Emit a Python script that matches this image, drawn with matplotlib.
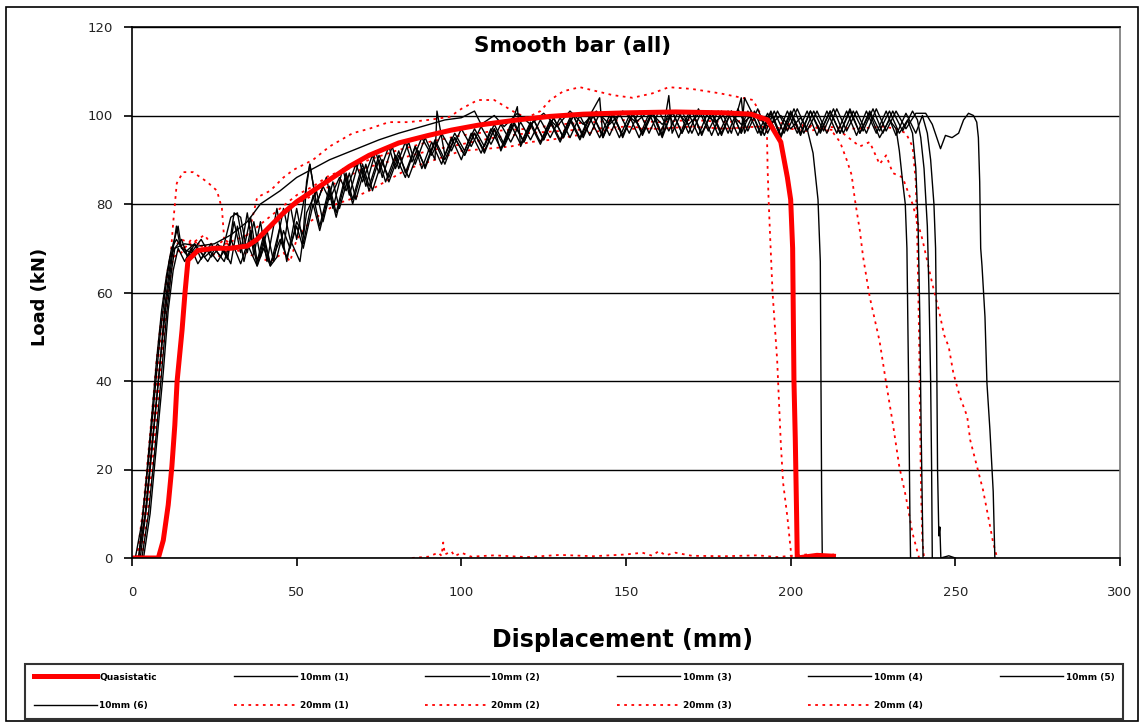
import matplotlib
matplotlib.use("Agg")
import matplotlib.pyplot as plt
import matplotlib.patches as patches
import numpy as np

# ---- data (displacement mm, load kN) ----
quasistatic = [(0, 0), (8, 0), (9.5, 4), (11, 12), (12.1, 20.6), (13, 30), (13.7, 40),
               (15.2, 51.5), (16.1, 60), (17, 67.3), (20, 69.5), (25, 70), (30, 70),
               (35, 70.5), (38, 72), (42, 75), (46, 78), (50, 80.5), (55, 83), (60, 85.5),
               (66, 88.5), (72, 91), (81, 93.8), (90, 95.5), (97, 96.7), (105, 97.8),
               (117, 99), (127, 99.8), (137, 100.3), (150, 100.6), (165, 100.8),
               (180, 100.6), (188, 100.3), (193, 99), (197, 94), (199, 86), (200, 81),
               (200.6, 70), (201, 40), (201.4, 27), (201.8, 10), (202, 0), (205, 0.3),
               (208, 0.6), (213, 0.4)]

mm10_1 = [(1, 0), (3, 8), (5, 22), (7, 38), (8.5, 50), (10, 60), (11.5, 68), (13, 70),
          (16, 71), (20, 70.5), (25, 71), (30, 73), (35, 76), (39, 80), (45, 83),
          (50, 86), (55, 88), (60, 90), (65, 91.5), (70, 93), (75, 94.5), (81, 96),
          (88, 97.5), (95, 99), (100, 99.5), (104, 101), (106, 98), (110, 100),
          (113, 97.5), (117, 100.5), (121, 98), (125, 100.5), (129, 97.5), (133, 101),
          (137, 98), (141, 101), (145, 98), (149, 101), (153, 98.5), (157, 101),
          (161, 98), (165, 101), (169, 98), (173, 101), (177, 98.5), (181, 101),
          (185, 98), (189, 100.5), (193, 97.5), (197, 100), (200, 97), (203, 99.5),
          (205, 97), (206.8, 91.5), (208.3, 81), (209, 67), (209.2, 40), (209.4, 15),
          (209.6, 0)]

mm10_2 = [(2, 0), (4, 10), (6, 25), (8, 40), (10, 55), (11.5, 64), (12.5, 70), (13.5, 75),
          (14.5, 71), (17, 68), (20, 70), (23, 67), (26, 71), (29, 68), (31, 78), (33, 77),
          (35, 69), (37, 76), (39, 68), (41, 74), (43, 67), (46, 79), (48, 72), (51, 67),
          (53, 78), (56, 83), (58, 76), (61, 85), (63, 79), (66, 87), (68, 81), (71, 89),
          (73, 83), (76, 90), (78, 85), (81, 91), (84, 86), (87, 92), (89, 88), (92, 94),
          (95, 89), (98, 95), (101, 91), (104, 96), (107, 92), (110, 97), (113, 93),
          (116, 98), (119, 94), (122, 99), (125, 94.5), (128, 99.5), (131, 95), (134, 100),
          (137, 95), (140, 100), (143, 95.5), (146, 100.5), (149, 95), (152, 100.5),
          (155, 96), (158, 101), (161, 95.5), (164, 101), (167, 96), (170, 101),
          (173, 95.5), (176, 101), (179, 96), (182, 101), (185, 96), (186, 104),
          (188, 101), (191, 95.5), (194, 100.5), (197, 95), (200, 100.5), (203, 95.5),
          (206, 101), (209, 96), (212, 101), (215, 96), (218, 101), (221, 96),
          (224, 100.5), (227, 95), (230, 99), (232, 97), (233, 92), (234, 85), (234.8, 80),
          (235.3, 70), (235.8, 40), (236, 25), (236.2, 10), (236.4, 0)]

mm10_3 = [(3, 0), (5, 10), (7, 25), (9, 42), (10.5, 55), (12, 65), (13, 70), (15, 72),
          (17, 68), (19, 71), (21, 67.5), (24, 71), (27, 68), (30, 77), (32, 78), (34, 70),
          (36, 77), (38, 67), (40, 73), (42, 66.5), (45, 72), (47, 68), (50, 75), (52, 70),
          (55, 80), (57, 74), (60, 83), (62, 77), (65, 86), (67, 80), (70, 88), (72, 83),
          (75, 90), (77, 85), (80, 91), (83, 86), (86, 93), (88, 88), (91, 94), (94, 89),
          (97, 95), (100, 90), (103, 96), (106, 91.5), (109, 97), (112, 92.5), (115, 98),
          (118, 93.5), (121, 98.5), (124, 94), (127, 99), (130, 94.5), (133, 99.5),
          (136, 95), (139, 100), (142, 104), (143, 95), (146, 100), (149, 95.5),
          (152, 100.5), (155, 95.5), (158, 100.5), (161, 95), (164, 101), (167, 96),
          (170, 101), (173, 96), (176, 100.5), (179, 95.5), (182, 101), (185, 96),
          (188, 101), (191, 96), (194, 101), (197, 95.5), (200, 101), (203, 96),
          (206, 101), (209, 96.5), (212, 101), (215, 96), (218, 101.5), (221, 96),
          (224, 101), (227, 96.5), (230, 101), (233, 96), (235.5, 99), (237, 96),
          (238, 88), (238.7, 75), (239.2, 55), (239.6, 30), (240, 10), (240.2, 0)]

mm10_4 = [(2.5, 0), (4.5, 12), (6.5, 28), (8.5, 44), (10, 57), (11.5, 66), (12.5, 71),
          (14, 75), (15, 70), (18, 69), (21, 72), (24, 68), (27, 70.5), (29, 67.5),
          (31, 76), (33, 69), (35, 78), (37, 68.5), (39, 76), (41, 67), (44, 79), (46, 70),
          (48, 80), (50, 72), (53, 84), (54, 89), (56, 80), (59, 86), (61, 79), (64, 88),
          (66, 82), (69, 90), (71, 84), (74, 92), (76, 86), (79, 93), (81, 88), (84, 94),
          (86, 89), (89, 95), (92, 90), (92.6, 101), (95, 91), (98, 96), (101, 92),
          (104, 97), (107, 93), (110, 98), (113, 93.5), (116, 98.5), (119, 94), (122, 99),
          (125, 94.5), (128, 99.5), (131, 95), (134, 100), (137, 95.5), (140, 100),
          (143, 95), (146, 100.5), (149, 95.5), (152, 100.5), (155, 96), (158, 101),
          (161, 95.5), (163, 104.5), (164, 96), (167, 101), (170, 96), (173, 101),
          (176, 95.5), (179, 101), (182, 96), (185, 104), (186, 96), (189, 101),
          (192, 95.5), (195, 101), (198, 96), (201, 101.5), (204, 96), (207, 101),
          (210, 96.5), (213, 101.5), (216, 96), (219, 101), (222, 96.5), (225, 101.5),
          (228, 96), (231, 101), (234, 96.5), (237, 101), (238.5, 99), (239.5, 95),
          (240.5, 88), (241.5, 75), (242, 60), (242.5, 40), (242.8, 20), (243, 0)]

mm10_5 = [(3.5, 0), (5.5, 10), (7.5, 26), (9.5, 42), (11, 56), (12.5, 65), (14, 70),
          (16, 67), (18, 70), (20, 66.5), (23, 70), (26, 67), (28, 69.5), (30, 66.5),
          (32, 75), (34, 67), (36, 74), (38, 66), (40, 72), (42, 66), (45, 75), (47, 67),
          (50, 79), (52, 71), (55, 82), (57, 75), (60, 84), (62, 78), (65, 87), (67, 81),
          (70, 89), (72, 84), (75, 91), (78, 86), (81, 92), (83, 87), (86, 93), (89, 88.5),
          (92, 94.5), (95, 90), (98, 95), (101, 91), (104, 96), (107, 91.5), (110, 97),
          (112, 92), (115, 97.5), (117, 102), (118, 93), (121, 98), (124, 93.5),
          (127, 98.5), (130, 94), (133, 99), (136, 94.5), (139, 99.5), (142, 95),
          (145, 100), (148, 95), (151, 100), (154, 95), (157, 100.5), (160, 95.5),
          (163, 100.5), (166, 95), (169, 100.5), (172, 95.5), (175, 101), (178, 95.5),
          (181, 100.5), (184, 95.5), (187, 101), (190, 96), (193, 100.5), (196, 95.5),
          (199, 101), (202, 96), (205, 101), (208, 95.5), (211, 101), (214, 96),
          (217, 101), (220, 95.5), (223, 101), (226, 96), (229, 101), (232, 95.5),
          (235, 100.5), (238, 96), (240, 100), (241.5, 96), (242.5, 90), (243.5, 80),
          (244, 70), (244.3, 50), (244.6, 20), (245, 5), (245.3, 7), (245.6, 0),
          (248, 0.5), (250, 0)]

mm10_6 = [(2, 0), (4, 15), (6, 32), (7.5, 45), (9, 56), (10.5, 64), (12, 70), (13.5, 72),
          (16, 69), (19, 71), (22, 68), (25, 70), (28, 67), (30, 72), (33, 66.5), (35, 71),
          (38, 66), (40, 70), (42, 66), (44, 68), (46, 74), (48, 70), (50, 76), (52, 73),
          (53, 85), (54, 89), (56, 80), (58, 84), (60, 81), (63, 86), (65, 83), (68, 89),
          (70, 85), (73, 91), (75, 87), (78, 93), (80, 88), (83, 94), (85, 89.5), (88, 95),
          (91, 91), (94, 96), (97, 92), (100, 97), (103, 93), (106, 97.5), (109, 93.5),
          (112, 98), (115, 94), (118, 98.5), (121, 94.5), (124, 99), (127, 95),
          (130, 99.5), (133, 95), (136, 100), (139, 95.5), (142, 100.5), (145, 95.5),
          (148, 100.5), (151, 96), (154, 101), (157, 96), (160, 101), (163, 96.5),
          (166, 101), (169, 96), (172, 101.5), (175, 96.5), (178, 101), (181, 96),
          (184, 101.5), (187, 96.5), (190, 101.5), (193, 96), (196, 101), (199, 96.5),
          (202, 101.5), (205, 96.5), (208, 101), (211, 96), (214, 101.5), (217, 96.5),
          (220, 101), (223, 96), (226, 101.5), (229, 96.5), (232, 101), (235, 97),
          (238, 100.5), (241, 100.5), (243, 98), (245.5, 92.5), (247, 95.5), (249, 95),
          (251, 96), (252.5, 99), (254, 100.5), (255.5, 100), (256.5, 98.5), (257, 95),
          (257.4, 85), (257.7, 70), (258.1, 66), (259, 54.5), (259.6, 39.5),
          (260.5, 29), (261.5, 15), (262, 0)]

mm20_1 = [(2, 0), (4, 10), (6, 25), (8, 40), (10, 55), (11.5, 66), (12.5, 75.7),
          (13.6, 84.7), (15.5, 87.2), (18.5, 87.2), (22.8, 85), (25.8, 83), (27.3, 79),
          (28, 72), (30, 70), (34, 71), (36, 75), (38, 81.5), (42, 83), (46, 86),
          (49, 87.7), (55, 90), (60, 93), (67, 96), (72, 97), (78, 98.5), (84, 98.5),
          (90, 99), (96.5, 99.7), (100, 101.5), (105, 103.5), (110, 103.5), (116.5, 100.6),
          (120, 99.5), (124, 101), (127, 103.5), (131, 105.5), (136, 106.4), (146, 104.6),
          (152, 104), (158, 105), (163, 106.4), (170, 106), (178.6, 105), (188.6, 103.5),
          (190.7, 100.5), (192.3, 98), (192.8, 96), (193, 88), (193.3, 81), (193.8, 72),
          (194.5, 60), (195.9, 44.7), (197, 26), (197.7, 17), (199, 9.3), (199.8, 3.4),
          (200.3, 0)]

# low-load tail logged along the axis after the test
mm20_1_tail = [(85, 0), (90, 0.3), (93, 1.2), (94, 0.5), (94.5, 3.5), (95, 0.8),
               (97, 1.5), (98, 0.4), (100, 1.2), (103, 0.3), (110, 0.6), (120, 0.2),
               (130, 0.7), (140, 0.4), (150, 0.8), (155, 1.2), (158, 0.5), (160, 1.6),
               (162, 0.6), (165, 1.2), (170, 0.5), (180, 0.4), (190, 0.6), (196, 0.2),
               (200, 0.5), (205, 0.8), (210, 0.4), (213, 0.9)]

mm20_2 = [(3, 0), (5, 12), (7, 28), (9, 45), (11, 60), (12.5, 68), (15, 69), (18, 72),
          (22, 70), (26, 68), (30, 70), (34, 69), (38, 68), (42, 67), (46, 69), (48, 67),
          (50, 72), (54, 76), (58, 78), (62, 80), (66, 81), (72, 83), (78, 85.5),
          (84, 88), (90, 89.5), (100, 92), (108, 92.5), (115, 93), (121, 94), (127, 94.5),
          (135, 95.5), (142, 96.5), (148, 97), (160, 97), (170, 97.5), (180, 97),
          (190, 97.5), (200, 97), (205, 96.5), (210, 97), (213, 96), (215, 94), (217, 90),
          (218.5, 86.6), (219.5, 81), (221, 74), (222, 68), (224, 59), (227, 49),
          (229, 39.5), (231, 30.5), (233, 20.6), (235, 13.8), (237, 5.6), (239, 0)]

mm20_3 = [(2, 0), (4, 12), (6, 28), (8, 45), (10, 60), (12, 68), (15, 70), (20, 71),
          (25, 70), (30, 71.5), (35, 73), (40, 76), (45, 79), (50, 82), (55, 84),
          (60, 86.5), (66, 88), (72, 90), (80, 92), (90, 94), (100, 95.5), (110, 96.5),
          (120, 97), (130, 98), (140, 98.5), (150, 99), (160, 98.5), (170, 99),
          (180, 98.5), (190, 99), (200, 98), (210, 97.5), (220, 97), (228, 97.5),
          (232, 97), (235, 96), (237, 93), (238, 85), (238.5, 70), (239, 50),
          (239.3, 30), (239.6, 15), (240, 4), (240.5, 0)]

mm20_4 = [(1.5, 0), (3.5, 12), (5.5, 28), (7.5, 45), (9.5, 58), (11, 66), (12.5, 70),
          (15, 72), (18, 71), (22, 73), (25, 70), (28, 72), (32, 70), (36, 71), (40, 74),
          (45, 77), (50, 80), (55, 82), (60, 84), (65, 86), (70, 88), (80, 90), (90, 92),
          (100, 93.5), (110, 95), (120, 96), (130, 96.5), (140, 97), (150, 97.5),
          (160, 97), (170, 97.5), (180, 97), (190, 97.5), (200, 97), (205, 97.5),
          (210, 97), (215, 96.5), (221, 93), (224, 94), (227, 89), (229, 91), (231, 87),
          (234, 86), (237, 80), (240, 72), (243, 62), (245, 56), (246.6, 50.4),
          (248, 47.7), (249.4, 41.8), (251.4, 36.4), (253.6, 32), (254.5, 26.7),
          (256.6, 20.6), (258.4, 15.4), (260, 9.3), (261.5, 3.4), (262.7, 0)]

labels = ["Quasistatic", "10mm (1)", "10mm (2)", "10mm (3)", "10mm (4)", "10mm (5)",
          "10mm (6)", "20mm (1)", "20mm (2)", "20mm (3)", "20mm (4)"]

x_ticks = [0, 50, 100, 150, 200, 250, 300]
y_ticks = [0, 20, 40, 60, 80, 100, 120]


def xy(points):
    arr = np.array(points, dtype=float)
    return arr[:, 0], arr[:, 1]


fig = plt.figure(figsize=(11.42, 7.22), dpi=100)
ax = fig.add_axes([132 / 1142, 1 - 558 / 722, 988 / 1142, 531 / 722])

black = dict(color="black", lw=1.0)
red = dict(color="red", lw=1.3, linestyle=(0, (1.5, 2.5)))

r_series = [mm20_1, mm20_2, mm20_3, mm20_4]
b_series = [mm10_1, mm10_2, mm10_3, mm10_4, mm10_5, mm10_6]

r_lines = []
for s in r_series:
    x, y = xy(s)
    l, = ax.plot(x, y, **red)
    r_lines.append(l)
x, y = xy(mm20_1_tail)
ax.plot(x, y, **red)

b_lines = []
for s in b_series:
    x, y = xy(s)
    l, = ax.plot(x, y, **black)
    b_lines.append(l)

x, y = xy(quasistatic)
q_line, = ax.plot(x, y, color="red", lw=3.6, solid_joinstyle="miter")

ax.set_xlim(0, 300)
ax.set_ylim(0, 120)
ax.set_xticks(x_ticks)
ax.set_yticks(y_ticks)
ax.yaxis.grid(True, color="black", lw=1.0)
ax.set_axisbelow(True)
for side in ["left", "bottom", "top"]:
    ax.spines[side].set_color("black")
    ax.spines[side].set_linewidth(1.2)
ax.spines["right"].set_color("#777777")
ax.spines["right"].set_linewidth(1.2)
ax.tick_params(axis="y", direction="out", length=6, width=1.2, pad=8,
               labelsize=9.5, labelcolor="#222222")
ax.tick_params(axis="x", direction="out", length=6, width=1.2, pad=14,
               labelsize=9.5, labelcolor="#222222")

ax.text(0.446, 0.964, "Smooth bar (all)", transform=ax.transAxes, ha="center",
        va="center", fontsize=15.5, fontweight="bold")
fig.text(40 / 1142, 1 - 297 / 722, "Load (kN)", rotation=90, ha="center", va="center",
         fontsize=13, fontweight="bold")
fig.text(623 / 1142, 1 - 640 / 722, "Displacement (mm)", ha="center", va="center",
         fontsize=17, fontweight="bold")

# Excel fills the legend row by row, matplotlib column by column
handles = [q_line] + b_lines + r_lines
order = [0, 6, 1, 7, 2, 8, 3, 9, 4, 10, 5]
leg = fig.legend([handles[i] for i in order], [labels[i] for i in order],
                 loc="center", ncol=6,
                 bbox_to_anchor=(20 / 1142, 1 - 720 / 722, 1108 / 1142, 57 / 722),
                 mode="expand", handlelength=7, handletextpad=0.3,
                 frameon=True, fancybox=False, borderpad=1.0, labelspacing=2.2,
                 prop={"weight": "bold", "size": 6.5})
leg.get_frame().set_edgecolor("black")
leg.get_frame().set_linewidth(1.5)

fig.patches.append(patches.Rectangle((6 / 1142, 1 / 722), 1132 / 1142, 714 / 722,
                                     transform=fig.transFigure, fill=False,
                                     ec="black", lw=1.2))

fig.savefig("out.png", dpi=100)
